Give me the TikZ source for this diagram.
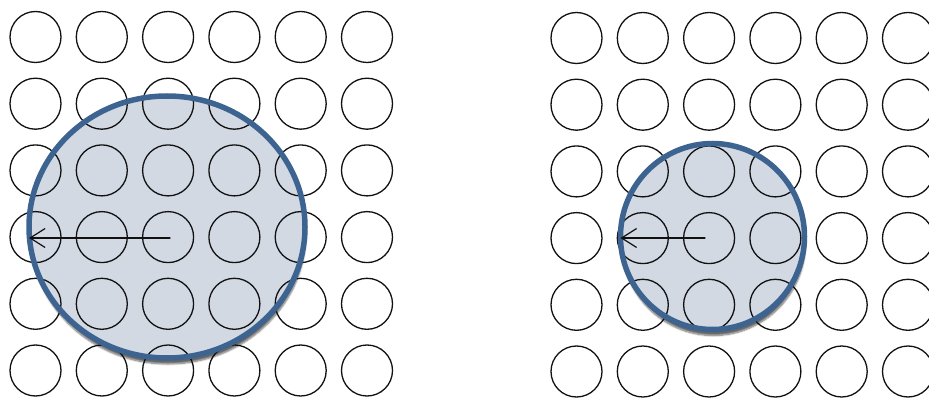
\documentclass[tikz,border=0pt]{standalone}
\usepackage{xcolor}
\usepackage{tikz}
\usetikzlibrary{arrows.meta,shadows.blur}
\definecolor{rfRing}{HTML}{3D6491}
\definecolor{rfFill}{HTML}{D2D9E3}
\definecolor{rfInk}{HTML}{111111}
\tikzset{
  rf diagram/.style={x=1pt, y=-1pt, line cap=round, line join=round},
  rf dot/.style={circle, draw=rfInk, line width=1.3pt, minimum size=51pt,
    inner sep=0pt, outer sep=0pt},
  rf disc/.style={ellipse, fill=rfFill, inner sep=0pt, outer sep=0pt,
    blur shadow={shadow xshift=1pt, shadow yshift=-6pt,
      shadow blur steps=8, shadow opacity=60}},
  rf ring/.style={ellipse, draw=rfRing, line width=5.5pt, inner sep=0pt,
    outer sep=0pt},
  rf arrow/.style={-{Straight Barb[length=15pt,width=19pt]}, draw=rfInk,
    line width=1.2pt}
}
\usetikzlibrary{shapes.geometric}

\begin{document}
\begin{tikzpicture}[rf diagram]
\useasboundingbox (0,0) rectangle (929,398);
% wide field
\node[rf disc,minimum width=276pt,minimum height=262pt] (discL) at (167,227) {};
% narrow field
\node[rf disc,minimum width=184pt,minimum height=186pt] (discR) at (712.5,236.5) {};
\foreach \i in {0,...,5}
  \foreach \j in {0,...,5} {
    \node[rf dot] (l\i\j) at ({35.5+66.3*\i},{37+66.7*\j}) {};
    \node[rf dot] (r\i\j) at ({576.5+66.3*\i},{38+66.7*\j}) {};
  }
\node[rf ring,minimum width=276pt,minimum height=262pt] (ringL) at (discL) {};
\node[rf ring,minimum width=184pt,minimum height=186pt] (ringR) at (discR) {};
\coordinate (srcL) at (170,238);
\coordinate (srcR) at (705,238);
\draw[rf arrow] (srcL) -- (srcL -| ringL.west);
\draw[rf arrow] (srcR) -- (srcR -| ringR.west);
\end{tikzpicture}
\end{document}
